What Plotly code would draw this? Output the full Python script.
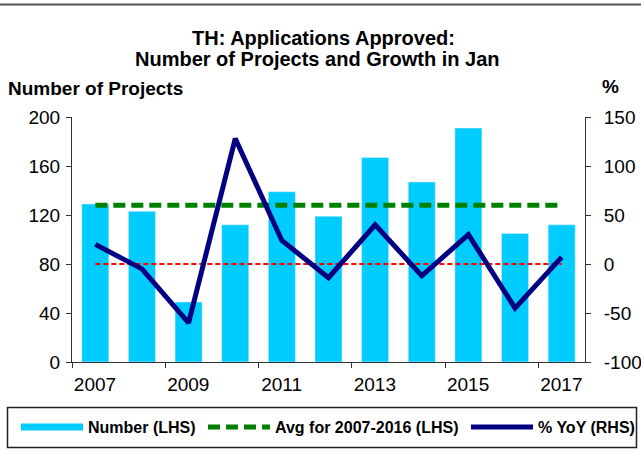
import plotly.graph_objects as go

years = [2007, 2008, 2009, 2010, 2011, 2012, 2013, 2014, 2015, 2016, 2017]
number = [129, 123, 49, 112, 139, 119, 167, 147, 191, 105, 112]
avg_2007_2016 = [128] * 11
yoy = [20, -5, -60, 128, 24, -14, 40, -12, 30, -45, 7]
zero_line = [0] * 11
xtick_pos = [2006.5, 2008.5, 2010.5, 2012.5, 2014.5, 2016.5]
xtick_text = ["2007", "2009", "2011", "2013", "2015", "2017"]
y2_tickvals = [-100, -50, 0, 50, 100, 150]
y2_ticktext = ["-100", "-50", "0", "50", "100", "150"]

FONT = "Liberation Sans, Arial, sans-serif"
W, H = 641, 460
L, R, T, B = 72, 585, 117, 362
pw, ph = R - L, B - T

def px(x):
    return (x - L) / pw

def py(y):
    return (B - y) / ph

fig = go.Figure()
fig.add_trace(go.Bar(x=years, y=number, marker_color="#00CCFF", width=0.58,
                     showlegend=False, name="Number (LHS)"))
# legend proxy for bars
fig.add_trace(go.Scatter(x=[None], y=[None], mode="lines", name="Number (LHS)",
                         line=dict(color="#00CCFF", width=7), legend="legend"))
fig.add_trace(go.Scatter(x=years, y=avg_2007_2016, mode="lines", name="Avg for 2007-2016 (LHS)",
                         line=dict(color="#008000", width=5, dash="12px,6px"), legend="legend2"))
fig.add_trace(go.Scatter(x=years, y=zero_line, mode="lines", yaxis="y2", showlegend=False,
                         line=dict(color="#FF0000", width=2, dash="5px,3px")))
fig.add_trace(go.Scatter(x=years, y=yoy, mode="lines", yaxis="y2", name="% YoY (RHS)",
                         line=dict(color="#000080", width=5), legend="legend3"))

axis_font = dict(family=FONT, size=19, color="black")
leg_font = dict(family=FONT, size=16, color="black", weight="bold")

def leg(xpix):
    return dict(orientation="h", xref="container", yref="container",
                x=xpix / W, xanchor="left", y=1 - 427 / H, yanchor="middle",
                font=leg_font, itemwidth=62, bgcolor="rgba(0,0,0,0)", borderwidth=0)

fig.update_layout(
    width=W, height=H, autosize=False,
    margin=dict(l=L, r=W - R, t=T, b=H - B, pad=0),
    paper_bgcolor="white", plot_bgcolor="white",
    font=dict(family=FONT, color="black"),
    xaxis=dict(range=[2006.5, 2017.5], tickvals=xtick_pos, ticktext=xtick_text,
               ticklabelshift=23, ticks="outside", ticklen=5, tickcolor="#333",
               showline=True, linecolor="#333", linewidth=1, showgrid=False,
               zeroline=False, tickfont=axis_font, automargin=False),
    yaxis=dict(range=[0, 200], dtick=40, ticks="outside", ticklen=5, tickcolor="#333",
               showline=True, linecolor="#333", linewidth=1, showgrid=False,
               zeroline=False, tickfont=axis_font, ticklabelstandoff=2, automargin=False),
    yaxis2=dict(range=[-100, 150], tickvals=y2_tickvals, ticktext=y2_ticktext,
                ticks="outside", ticklen=5, tickcolor="#333",
                showline=True, linecolor="#333", linewidth=1, showgrid=False,
                zeroline=False, tickfont=axis_font, overlaying="y", side="right",
                ticklabelstandoff=9, automargin=False),
    legend=leg(16),
    legend2=leg(203),
    legend3=leg(466),
    annotations=[
        dict(text="<b>TH: Applications Approved:</b>", xref="paper", yref="paper",
             x=px(323), y=py(38), xanchor="center", yanchor="middle", showarrow=False,
             font=dict(family=FONT, size=20, color="black")),
        dict(text="<b>Number of Projects and Growth in Jan</b>", xref="paper", yref="paper",
             x=px(317), y=py(59), xanchor="center", yanchor="middle", showarrow=False,
             font=dict(family=FONT, size=20, color="black")),
        dict(text="<b>Number of Projects</b>", xref="paper", yref="paper",
             x=px(6), y=py(89), xanchor="left", yanchor="middle", showarrow=False,
             font=dict(family=FONT, size=19, color="black")),
        dict(text="<b>%</b>", xref="paper", yref="paper",
             x=px(610), y=py(86), xanchor="center", yanchor="middle", showarrow=False,
             font=dict(family=FONT, size=19, color="black")),
    ],
    shapes=[
        dict(type="line", xref="paper", yref="paper", x0=px(0), x1=px(W),
             y0=py(4.5), y1=py(4.5), line=dict(color="#555", width=2)),
        dict(type="rect", xref="paper", yref="paper", x0=px(7.5), x1=px(636.5),
             y0=py(407.5), y1=py(447.5), line=dict(color="#222", width=1.5)),
    ],
)

fig.write_html("out.html", config={"displayModeBar": False},
               post_script="document.body.style.margin='0';")
